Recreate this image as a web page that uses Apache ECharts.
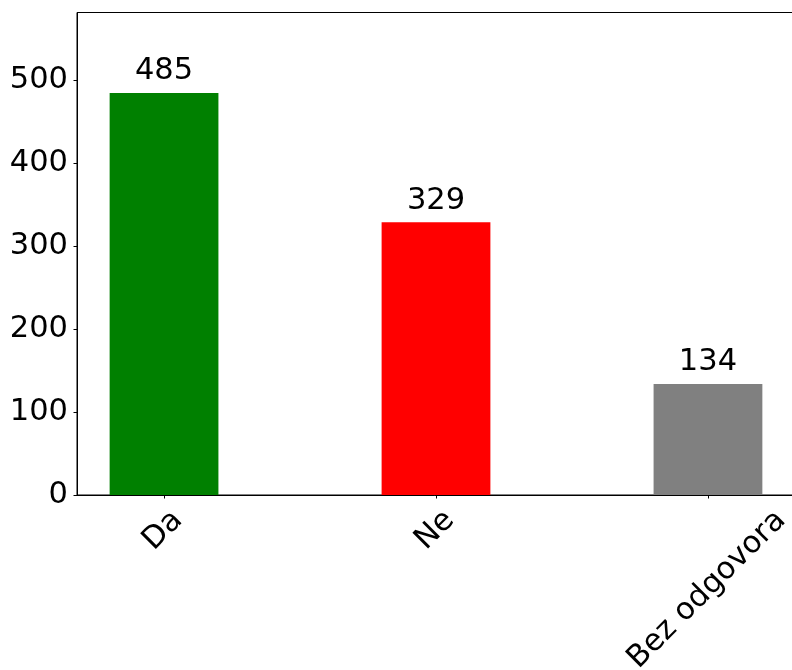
<!DOCTYPE html>
<html>
<head>
<meta charset="utf-8">
<script src="https://cdn.jsdelivr.net/npm/echarts@6/dist/echarts.min.js"></script>
<style>
  html, body { margin: 0; padding: 0; background: #ffffff; }
  #chart { width: 792px; height: 670px; }
</style>
</head>
<body>
<div id="chart"></div>
<script>
const categories = ['Da', 'Ne', 'Bez odgovora'];
const values = [485, 329, 134];
const yTicks = [0, 100, 200, 300, 400, 500];
const xTicks = [0, 1, 2];
const barColors = ['#008000', '#ff0000', '#808080'];

const FONT = '"DejaVu Sans", sans-serif';
const FS = 30.5;

const measureCtx = document.createElement('canvas').getContext('2d');
measureCtx.font = FS + 'px ' + FONT;
function textWidth(t) { return measureCtx.measureText(t).width; }

const chart = echarts.init(document.getElementById('chart'), null, { renderer: 'canvas' });

const option = {
  backgroundColor: '#ffffff',
  animation: false,
  textStyle: { fontFamily: FONT },
  grid: {
    left: 77, top: 12.5, width: 718, height: 482.5,
    show: true, borderColor: '#000000', borderWidth: 1, backgroundColor: 'transparent',
    containLabel: false, outerBoundsMode: 'none'
  },
  xAxis: {
    type: 'value',
    min: -0.32, max: 2.32,
    splitLine: { show: false },
    axisLine: { show: true, onZero: false, lineStyle: { color: '#000000', width: 1 } },
    axisTick: { show: true, inside: false, length: 3.5, customValues: xTicks, lineStyle: { color: '#000000', width: 1 } },
    axisLabel: { show: false }
  },
  yAxis: {
    type: 'value',
    min: 0, max: 582,
    splitLine: { show: false },
    axisLine: { show: true, onZero: false, lineStyle: { color: '#000000', width: 1 } },
    axisTick: { show: true, inside: false, length: 3.5, customValues: yTicks, lineStyle: { color: '#000000', width: 1 } },
    axisLabel: { show: true, customValues: yTicks, fontSize: FS, color: '#000000', margin: 9, padding: [4, 0, 0, 0], fontFamily: FONT }
  },
  series: [
    {
      type: 'bar',
      barWidth: '40%',
      data: values.map((v, i) => ({ value: [i, v], itemStyle: { color: barColors[i] } })),
      label: {
        show: true, position: 'top', distance: 6,
        fontSize: FS, color: '#000000', fontFamily: FONT,
        formatter: p => String(p.value[1])
      }
    },
    {
      type: 'custom',
      clip: false,
      silent: true,
      z: 10,
      data: categories.map((c, i) => [i, 0]),
      encode: { x: 0, y: 1 },
      renderItem: function (params, api) {
        const i = api.value(0);
        const p = api.coord([i, 0]);
        const txt = categories[i];
        const L = textWidth(txt);
        return {
          type: 'text',
          x: p[0] - 1,
          y: p[1] + 20.6 + 0.354 * L,
          rotation: Math.PI / 4,
          style: {
            text: txt, font: FS + 'px ' + FONT, fill: '#000000',
            align: 'center', verticalAlign: 'middle'
          }
        };
      }
    }
  ]
};

chart.setOption(option);
</script>
</body>
</html>
